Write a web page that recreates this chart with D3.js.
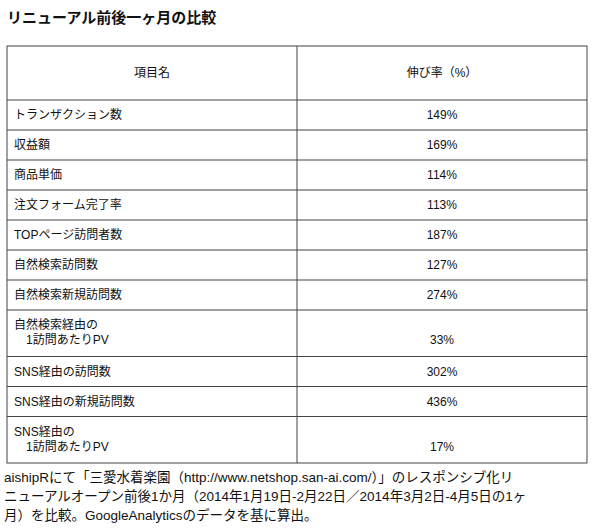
<!DOCTYPE html>
<html><head><meta charset="utf-8">
<script src="https://cdn.jsdelivr.net/npm/d3@7"></script>
<style>body{margin:0;background:#fff;font-family:"Liberation Sans","Noto Sans CJK JP",sans-serif;}</style>
</head><body><div id="content"></div>
<script>
var title = "リニューアル前後一ヶ月の比較";
var headers = ["項目名", "伸び率（%）"];
var items = [["トランザクション数"], ["収益額"], ["商品単価"], ["注文フォーム完了率"], ["TOPページ訪問者数"],
  ["自然検索訪問数"], ["自然検索新規訪問数"], ["自然検索経由の", "　1訪問あたりPV"], ["SNS経由の訪問数"],
  ["SNS経由の新規訪問数"], ["SNS経由の", "　1訪問あたりPV"]];
var values = [149, 169, 114, 113, 187, 127, 274, 33, 302, 436, 17];
var notes = ["aishipRにて「三愛水着楽園（http://www.netshop.san-ai.com/）」のレスポンシブ化リ",
  "ニューアルオープン前後1か月（2014年1月19日-2月22日／2014年3月2日-4月5日の1ヶ",
  "月）を比較。GoogleAnalyticsのデータを基に算出。"];

var svg = d3.select("#content").append("svg").attr("width", 600).attr("height", 532);
svg.append("text").attr("x", 7).attr("y", 23).attr("font-size", 15).attr("font-weight", "bold")
  .attr("fill", "#111").text(title);

// row heights in units: header 54, single 30, double 46
var heights = [54].concat(items.map(function(d) { return d.length > 1 ? 46.5 : 30; }));
var tops = [0];
heights.forEach(function(h, i) { tops.push(tops[i] + h); });
var y = d3.scaleLinear().domain([0, tops[tops.length - 1]]).range([46, 463]);
var x = d3.scaleLinear().domain([0, 1, 2]).range([7, 297, 587]);

var g = svg.append("g").attr("font-size", 12).attr("fill", "#111");
g.append("rect").attr("x", x(0)).attr("y", y(0)).attr("width", x(2) - x(0)).attr("height", y(tops[tops.length - 1]) - y(0))
  .attr("fill", "none").attr("stroke", "#444").attr("stroke-width", 1);
g.append("line").attr("x1", x(1)).attr("x2", x(1)).attr("y1", y(0)).attr("y2", y(tops[tops.length - 1])).attr("stroke", "#444");
g.selectAll("line.h").data(tops.slice(1, -1)).enter().append("line").attr("class", "h")
  .attr("x1", x(0)).attr("x2", x(2)).attr("y1", function(d) { return y(d); }).attr("y2", function(d) { return y(d); })
  .attr("stroke", "#444");

g.selectAll("text.hd").data(headers).enter().append("text").attr("class", "hd")
  .attr("x", function(d, i) { return (x(i) + x(i + 1)) / 2; }).attr("y", y(27) + 4).attr("text-anchor", "middle").text(function(d) { return d; });

items.forEach(function(lines, i) {
  var t = tops[i + 1], h = heights[i + 1];
  lines.forEach(function(l, j) {
    g.append("text").attr("x", x(0) + 7).attr("y", lines.length > 1 ? y(t) + 19 + j * 15 : y(t + h / 2) + 4).text(l);
  });
  g.append("text").attr("x", (x(1) + x(2)) / 2).attr("text-anchor", "middle")
    .attr("y", lines.length > 1 ? y(t) + 34 : y(t + h / 2) + 4).text(values[i] + "%");
});

svg.selectAll("text.note").data(notes).enter().append("text").attr("class", "note")
  .attr("x", 4).attr("y", function(d, i) { return 482 + i * 19; }).attr("font-size", 13.5).attr("fill", "#111")
  .text(function(d) { return d; });
</script></body></html>
